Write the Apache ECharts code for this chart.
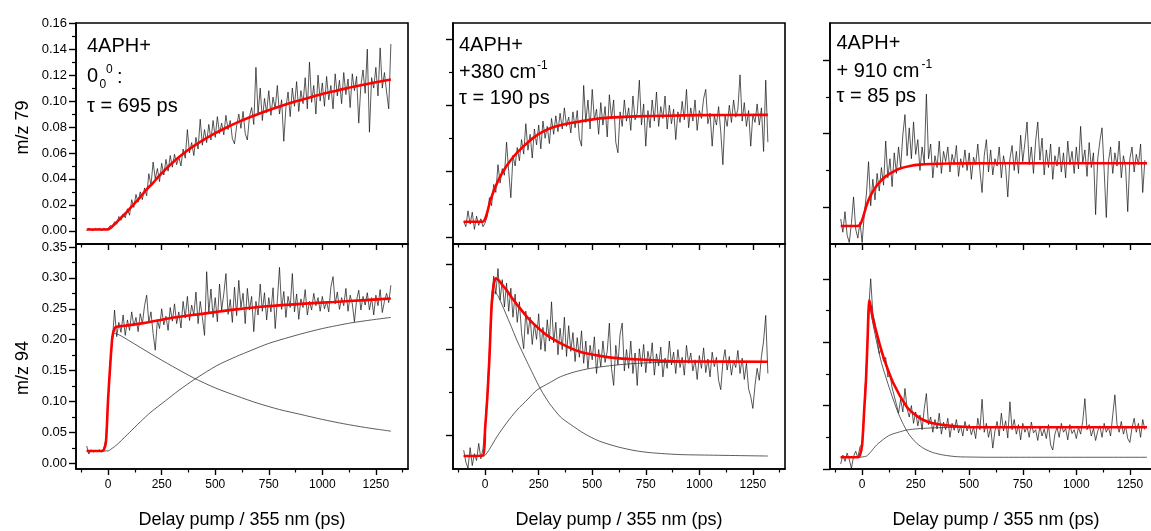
<!DOCTYPE html>
<html>
<head>
<meta charset="utf-8">
<script src="https://cdn.jsdelivr.net/npm/echarts@6/dist/echarts.min.js"></script>
<style>
html,body{margin:0;padding:0;background:#fff;}
#chart{width:1151px;height:531px;}
</style>
</head>
<body>
<div id="chart"></div>
<script>
// ---------------- data ----------------
const delays = [
-100,-90,-80,-70,-60,-50,-40,-30,-20,-10,
0,10,20,30,40,50,60,70,80,90,
100,110,120,130,140,150,160,170,180,190,
200,210,220,230,240,250,260,270,280,290,
300,310,320,330,340,350,360,370,380,390,
400,410,420,430,440,450,460,470,480,490,
500,510,520,530,540,550,560,570,580,590,
600,610,620,630,640,650,660,670,680,690,
700,710,720,730,740,750,760,770,780,790,
800,810,820,830,840,850,860,870,880,890,
900,910,920,930,940,950,960,970,980,990,
1000,1010,1020,1030,1040,1050,1060,1070,1080,1090,
1100,1110,1120,1130,1140,1150,1160,1170,1180,1190,
1200,1210,1220,1230,1240,1250,1260,1270,1280,1290,
1300,1310,1320];

// m/z 79, 0_0^0 (tau = 695 ps)
const m79_00_signal = [
0.000,0.002,0.001,0.000,0.002,0.001,0.002,0.000,0.002,0.001,
0.002,0.004,0.003,0.007,0.005,0.011,0.008,0.013,0.010,0.017,
0.012,0.024,0.018,0.028,0.022,0.030,0.024,0.033,0.027,0.044,
0.035,0.053,0.040,0.048,0.038,0.052,0.043,0.055,0.046,0.058,
0.049,0.059,0.051,0.057,0.050,0.063,0.056,0.078,0.060,0.068,
0.058,0.072,0.063,0.086,0.066,0.078,0.068,0.082,0.070,0.085,
0.072,0.088,0.075,0.083,0.074,0.089,0.078,0.085,0.071,0.067,
0.081,0.090,0.079,0.092,0.075,0.070,0.088,0.095,0.082,0.126,
0.090,0.110,0.085,0.102,0.091,0.108,0.089,0.103,0.094,0.112,
0.090,0.101,0.069,0.095,0.107,0.088,0.110,0.096,0.115,0.092,
0.108,0.098,0.118,0.094,0.130,0.099,0.112,0.090,0.120,0.100,
0.114,0.096,0.119,0.101,0.112,0.094,0.121,0.104,0.116,0.098,
0.122,0.105,0.117,0.095,0.121,0.108,0.119,0.083,0.112,0.124,
0.106,0.140,0.076,0.118,0.110,0.126,0.104,0.141,0.110,0.122,
0.107,0.094,0.144];
const m79_00_fitX = [-100,0,10,30,60,90,117,150,180,210,242,300,367,430,492,555,617,680,742,804,866,930,991,1055,1116,1180,1250,1320];
const m79_00_fit  = [0.001,0.001,0.002,0.005,0.010,0.015,0.020,0.026,0.032,0.037,0.043,0.0525,0.0615,0.0685,0.0745,0.0798,0.0845,0.0887,0.0925,0.096,0.0992,0.1022,0.105,0.1076,0.110,0.1122,0.1145,0.1167];

// m/z 94, 0_0^0
const m94_00_signal = [
0.028,0.015,0.022,0.018,0.021,0.019,0.022,0.018,0.024,0.040,
0.105,0.165,0.200,0.248,0.205,0.228,0.212,0.240,0.207,0.232,
0.215,0.245,0.222,0.236,0.213,0.242,0.226,0.255,0.272,0.228,
0.245,0.210,0.183,0.232,0.218,0.250,0.224,0.238,0.215,0.252,
0.230,0.258,0.226,0.245,0.219,0.262,0.235,0.270,0.231,0.256,
0.240,0.277,0.226,0.262,0.236,0.207,0.310,0.244,0.282,0.236,
0.268,0.229,0.290,0.248,0.274,0.307,0.241,0.265,0.228,0.285,
0.239,0.296,0.252,0.275,0.226,0.283,0.248,0.270,0.213,0.262,
0.240,0.290,0.246,0.276,0.232,0.268,0.245,0.284,0.218,0.263,
0.317,0.249,0.278,0.236,0.270,0.252,0.307,0.245,0.274,0.233,
0.266,0.252,0.281,0.240,0.262,0.248,0.275,0.255,0.268,0.246,
0.270,0.250,0.262,0.245,0.285,0.302,0.258,0.277,0.249,0.268,
0.255,0.283,0.246,0.272,0.258,0.229,0.264,0.280,0.248,0.270,
0.256,0.276,0.248,0.268,0.240,0.272,0.255,0.281,0.244,0.262,
0.275,0.260,0.288];
const m94_00_fitX = [-100,-30,-20,-10,0,10,20,30,40,60,100,150,200,273,350,420,507,600,741,900,1053,1200,1320];
const m94_00_fit  = [0.020,0.020,0.022,0.035,0.105,0.160,0.205,0.218,0.221,0.222,0.2235,0.226,0.229,0.234,0.238,0.241,0.245,0.249,0.254,0.258,0.261,0.264,0.2666];
const m94_00_decayX = [-100,-30,-20,-10,0,10,20,30,50,100,200,300,400,500,600,700,800,900,1000,1100,1200,1320];
const m94_00_decay  = [0.020,0.020,0.022,0.035,0.105,0.158,0.200,0.210,0.208,0.198,0.177,0.157,0.138,0.122,0.109,0.097,0.087,0.079,0.071,0.064,0.058,0.052];
const m94_00_riseX = [-100,0,10,30,50,100,150,200,267,330,400,507,600,663,750,897,1000,1131,1230,1320];
const m94_00_rise  = [0.020,0.020,0.022,0.027,0.033,0.050,0.067,0.083,0.101,0.118,0.135,0.158,0.173,0.182,0.194,0.209,0.218,0.227,0.232,0.236];

// m/z 79, +380 cm-1 (tau = 190 ps)
const m79_380_signal = [
0.012,0.008,0.020,0.010,0.019,0.006,0.016,0.009,0.014,0.008,
0.011,0.016,0.030,0.024,0.040,0.034,0.055,0.041,0.052,0.047,
0.072,0.050,0.030,0.062,0.054,0.068,0.058,0.074,0.063,0.086,
0.066,0.078,0.060,0.082,0.070,0.085,0.067,0.088,0.075,0.084,
0.071,0.090,0.078,0.092,0.080,0.094,0.082,0.098,0.084,0.091,
0.079,0.095,0.083,0.096,0.075,0.069,0.115,0.087,0.104,0.082,
0.112,0.089,0.097,0.078,0.102,0.085,0.099,0.076,0.108,0.090,
0.104,0.072,0.064,0.095,0.084,0.104,0.088,0.098,0.081,0.107,
0.089,0.094,0.119,0.085,0.101,0.069,0.096,0.083,0.104,0.088,
0.110,0.084,0.099,0.090,0.107,0.082,0.100,0.086,0.097,0.074,
0.095,0.087,0.103,0.089,0.112,0.083,0.098,0.088,0.104,0.081,
0.096,0.090,0.105,0.112,0.086,0.094,0.069,0.092,0.085,0.099,
0.080,0.055,0.092,0.084,0.100,0.087,0.104,0.091,0.097,0.123,
0.088,0.102,0.084,0.096,0.069,0.093,0.087,0.101,0.085,0.098,
0.065,0.119,0.072];
const m79_380_fitX = [-100,-10,0,10,23,40,50,70,100,132,180,226,270,320,380,445,520,601,700,852,1000,1320];
const m79_380_fit  = [0.0118,0.0118,0.014,0.019,0.027,0.035,0.039,0.046,0.054,0.061,0.069,0.0755,0.080,0.0835,0.086,0.0878,0.0897,0.0908,0.0916,0.0921,0.0925,0.0927];

// m/z 94, +380 cm-1
const m94_380_signal = [
0.022,0.008,0.001,0.025,0.004,0.018,0.010,0.030,0.012,0.024,
0.050,0.090,0.140,0.200,0.226,0.205,0.235,0.198,0.222,0.190,
0.218,0.185,0.212,0.178,0.205,0.172,0.196,0.160,0.141,0.185,
0.158,0.178,0.146,0.170,0.152,0.182,0.140,0.166,0.138,0.175,
0.150,0.196,0.148,0.172,0.134,0.165,0.140,0.178,0.132,0.168,
0.138,0.160,0.126,0.154,0.131,0.162,0.124,0.150,0.118,0.145,
0.128,0.155,0.112,0.140,0.120,0.150,0.125,0.138,0.171,0.118,
0.098,0.145,0.122,0.158,0.171,0.115,0.140,0.118,0.150,0.112,
0.136,0.098,0.141,0.120,0.146,0.113,0.138,0.124,0.148,0.110,
0.135,0.121,0.143,0.108,0.130,0.118,0.150,0.122,0.137,0.112,
0.140,0.119,0.131,0.110,0.145,0.124,0.136,0.115,0.128,0.105,
0.133,0.118,0.142,0.113,0.129,0.108,0.137,0.120,0.131,0.104,
0.093,0.125,0.140,0.116,0.132,0.110,0.127,0.119,0.139,0.112,
0.130,0.105,0.124,0.094,0.085,0.071,0.098,0.118,0.104,0.132,
0.150,0.180,0.112];
const m94_380_fitX = [-100,-10,0,10,20,30,40,50,60,80,102,130,164,200,258,300,383,450,539,600,696,852,1000,1320];
const m94_380_fit  = [0.0152,0.016,0.048,0.083,0.130,0.190,0.216,0.2236,0.222,0.216,0.209,0.199,0.188,0.177,0.163,0.155,0.1434,0.137,0.1325,0.1303,0.1286,0.1266,0.126,0.1258];
const m94_380_decayX = [-100,-10,0,10,20,30,45,60,80,117,150,195,258,300,352,400,461,530,617,700,773,900,1008,1320];
const m94_380_decay  = [0.0152,0.0155,0.047,0.082,0.128,0.185,0.208,0.203,0.192,0.170,0.150,0.126,0.094,0.077,0.061,0.052,0.0418,0.033,0.0261,0.0215,0.0191,0.017,0.0164,0.0152];
const m94_380_riseX = [-100,-8,0,20,55,100,149,200,242,300,352,420,492,580,664,760,852,1000,1320];
const m94_380_rise  = [0.0152,0.0152,0.016,0.023,0.0379,0.054,0.0692,0.082,0.0926,0.101,0.1082,0.114,0.118,0.121,0.1231,0.1245,0.125,0.1255,0.1258];

// m/z 79, +910 cm-1 (tau = 85 ps)
const m79_910_signal = [
0.017,0.008,0.022,0.006,0.001,0.014,0.032,0.010,0.004,0.015,
0.001,0.020,0.034,0.056,0.026,0.044,0.030,0.048,0.036,0.052,
0.040,0.070,0.045,0.058,0.039,0.062,0.048,0.066,0.052,0.074,
0.088,0.060,0.079,0.058,0.083,0.061,0.071,0.050,0.066,0.055,
0.102,0.058,0.068,0.045,0.060,0.052,0.070,0.048,0.063,0.056,
0.066,0.049,0.061,0.054,0.067,0.046,0.058,0.052,0.064,0.050,
0.062,0.044,0.059,0.054,0.068,0.050,0.035,0.060,0.071,0.049,
0.064,0.047,0.058,0.053,0.066,0.045,0.060,0.052,0.032,0.058,
0.067,0.050,0.063,0.048,0.074,0.056,0.069,0.083,0.054,0.066,
0.048,0.070,0.083,0.057,0.072,0.047,0.064,0.052,0.068,0.044,
0.060,0.053,0.066,0.049,0.062,0.045,0.070,0.054,0.063,0.048,
0.066,0.051,0.080,0.055,0.064,0.046,0.069,0.052,0.062,0.020,
0.058,0.070,0.079,0.050,0.018,0.056,0.066,0.048,0.062,0.053,
0.070,0.045,0.060,0.052,0.022,0.058,0.066,0.049,0.061,0.054,
0.068,0.035,0.057];
const m79_910_fitX = [-100,-25,-10,0,10,20,37,60,84,110,146,180,224,270,317,400,600,1330];
const m79_910_fit  = [0.0122,0.0122,0.013,0.0163,0.021,0.026,0.0322,0.038,0.0424,0.046,0.0492,0.0515,0.0531,0.054,0.0544,0.0547,0.0549,0.0549];

// m/z 94, +910 cm-1
const m94_910_signal = [
0.008,0.022,0.012,0.025,0.015,0.001,0.020,0.028,0.018,0.035,
0.040,0.100,0.165,0.250,0.300,0.245,0.230,0.205,0.182,0.190,
0.170,0.176,0.145,0.150,0.128,0.115,0.102,0.088,0.110,0.090,
0.127,0.095,0.082,0.100,0.072,0.090,0.068,0.085,0.062,0.095,
0.119,0.070,0.082,0.058,0.078,0.063,0.088,0.055,0.074,0.062,
0.080,0.050,0.072,0.061,0.078,0.057,0.068,0.052,0.075,0.060,
0.070,0.054,0.066,0.048,0.080,0.062,0.110,0.058,0.072,0.050,
0.066,0.033,0.060,0.075,0.052,0.088,0.060,0.076,0.049,0.106,
0.062,0.078,0.055,0.070,0.046,0.072,0.058,0.067,0.050,0.074,
0.057,0.062,0.045,0.068,0.052,0.063,0.048,0.070,0.038,0.030,
0.055,0.066,0.050,0.072,0.058,0.064,0.046,0.070,0.056,0.062,
0.048,0.066,0.055,0.075,0.111,0.062,0.070,0.052,0.064,0.045,
0.060,0.068,0.050,0.072,0.058,0.066,0.052,0.085,0.117,0.070,
0.058,0.075,0.055,0.068,0.048,0.042,0.065,0.080,0.058,0.072,
0.050,0.078,0.062];
const m94_910_fitX = [-100,-20,-10,0,10,18,25,34,50,68,99,146,208,250,286,330,379,450,519,1330];
const m94_910_fit  = [0.0185,0.0185,0.022,0.038,0.095,0.140,0.200,0.2666,0.238,0.214,0.1771,0.1352,0.0983,0.085,0.0773,0.072,0.0694,0.067,0.0658,0.0658];
const m94_910_decayX = [-100,-20,-10,0,10,20,30,36,50,70,91,120,146,170,193,220,255,290,333,380,442,520,600,1330];
const m94_910_decay  = [0.0185,0.0185,0.022,0.036,0.093,0.160,0.235,0.255,0.230,0.197,0.1667,0.135,0.1088,0.087,0.070,0.054,0.0405,0.032,0.0257,0.022,0.0194,0.0188,0.0185,0.0185];
const m94_910_riseX = [-100,-20,0,21,40,68,100,130,170,208,260,317,400,500,1330];
const m94_910_rise  = [0.0185,0.0185,0.019,0.0205,0.027,0.0379,0.047,0.0536,0.058,0.0615,0.0635,0.0647,0.0655,0.0658,0.0658];

// ticks and labels
const xMajorTicks = [0,250,500,750,1000,1250];
const xMinorTicks = [-125,125,375,625,875,1125,1375];
const yMajor_79_00 = [0,0.02,0.04,0.06,0.08,0.10,0.12,0.14,0.16];
const yMinor_79_00 = [0.01,0.03,0.05,0.07,0.09,0.11,0.13,0.15];
const yMajor_94_00 = [0,0.05,0.10,0.15,0.20,0.25,0.30,0.35];
const yMinor_94_00 = [0.025,0.075,0.125,0.175,0.225,0.275,0.325];
const yMajor_79_380 = [0,0.05,0.10,0.15];
const yMinor_79_380 = [0.025,0.075,0.125];
const yMajor_94_380 = [0.04,0.14,0.24];
const yMinor_94_380 = [0.09,0.19];
const yMajor_79_910 = [0.025,0.075,0.125];
const yMinor_79_910 = [0.05,0.10];
const yMajor_94_910 = [0,0.1,0.2,0.3];
const yMinor_94_910 = [0.05,0.15,0.25];
const xAxisTitle = 'Delay pump / 355 nm (ps)';
const yAxisTitles = ['m/z 79','m/z 94'];

// ---------------- layout / build ----------------
const FONT = '"Liberation Sans", Arial, Helvetica, sans-serif';
const X_MIN = -150, X_MAX = 1400;
const TOP = {top:23, height:221}, BOT = {top:244, height:225};
const COLS = [76, 453, 830], W = 332;

function pairs(xs, ys){ return xs.map((x,i)=>[x, ys[i]]); }

const panels = [
 {col:0, row:TOP, bottom:false, labels:true,  yMin:-0.0102, yMax:0.1602, major:yMajor_79_00, minor:yMinor_79_00,
  sig:m79_00_signal, fit:[m79_00_fitX,m79_00_fit], comps:[]},
 {col:0, row:BOT, bottom:true,  labels:true,  yMin:-0.0092, yMax:0.3548, major:yMajor_94_00, minor:yMinor_94_00,
  sig:m94_00_signal, fit:[m94_00_fitX,m94_00_fit], comps:[[m94_00_decayX,m94_00_decay],[m94_00_riseX,m94_00_rise]]},
 {col:1, row:TOP, bottom:false, labels:false, yMin:-0.0051, yMax:0.1623, major:yMajor_79_380, minor:yMinor_79_380,
  sig:m79_380_signal, fit:[m79_380_fitX,m79_380_fit], comps:[]},
 {col:1, row:BOT, bottom:true,  labels:false, yMin:0, yMax:0.2638, major:yMajor_94_380, minor:yMinor_94_380,
  sig:m94_380_signal, fit:[m94_380_fitX,m94_380_fit], comps:[[m94_380_decayX,m94_380_decay],[m94_380_riseX,m94_380_rise]]},
 {col:2, row:TOP, bottom:false, labels:false, yMin:0, yMax:0.1503, major:yMajor_79_910, minor:yMinor_79_910,
  sig:m79_910_signal, fit:[m79_910_fitX,m79_910_fit], comps:[]},
 {col:2, row:BOT, bottom:true,  labels:false, yMin:0, yMax:0.3549, major:yMajor_94_910, minor:yMinor_94_910,
  sig:m94_910_signal, fit:[m94_910_fitX,m94_910_fit], comps:[[m94_910_decayX,m94_910_decay],[m94_910_riseX,m94_910_rise]]}
];

const grids = [], xAxes = [], yAxes = [], series = [];
panels.forEach((p, k) => {
  grids.push({left:COLS[p.col], width:W, top:p.row.top, height:p.row.height,
    show:true, borderColor:'#000', borderWidth:1.6, backgroundColor:'transparent',
    containLabel:false, outerBoundsMode:'none'});
  const xi = xAxes.length, yi = yAxes.length;
  xAxes.push({gridIndex:k, type:'value', min:X_MIN, max:X_MAX, position:'bottom',
    axisLine:{show:true, onZero:false, lineStyle:{color:'#000', width:1.6}},
    axisTick:{show:true, inside:false, length:6, customValues:xMajorTicks, lineStyle:{color:'#000', width:1.4}},
    axisLabel:{show:p.bottom, customValues:xMajorTicks, formatter:(v)=>String(v), fontSize:12, color:'#000', margin:10, fontFamily:FONT},
    splitLine:{show:false},
    name:p.bottom ? xAxisTitle : '', nameLocation:'middle', nameGap:42,
    nameTextStyle:{fontSize:18, color:'#000', fontFamily:FONT}});
  xAxes.push({gridIndex:k, type:'value', min:X_MIN, max:X_MAX, position:'bottom',
    axisLine:{show:false, onZero:false},
    axisTick:{show:true, inside:false, length:3.5, customValues:xMinorTicks, lineStyle:{color:'#000', width:1.2}},
    axisLabel:{show:false}, splitLine:{show:false}});
  yAxes.push({gridIndex:k, type:'value', min:p.yMin, max:p.yMax, position:'left',
    axisLine:{show:true, onZero:false, lineStyle:{color:'#000', width:1.6}},
    axisTick:{show:true, inside:false, length:7, customValues:p.major, lineStyle:{color:'#000', width:1.4}},
    axisLabel:{show:p.labels, customValues:p.major, formatter:(v)=>v.toFixed(2), fontSize:13, color:'#000', margin:9, fontFamily:FONT},
    splitLine:{show:false}});
  yAxes.push({gridIndex:k, type:'value', min:p.yMin, max:p.yMax, position:'left',
    axisLine:{show:false, onZero:false},
    axisTick:{show:true, inside:false, length:4, customValues:p.minor, lineStyle:{color:'#000', width:1.2}},
    axisLabel:{show:false}, splitLine:{show:false}});

  series.push({type:'line', xAxisIndex:xi, yAxisIndex:yi, data:pairs(delays, p.sig),
    symbol:'none', showSymbol:false, silent:true, z:2,
    lineStyle:{color:'#111', width:0.7}});
  p.comps.forEach(c => series.push({type:'line', xAxisIndex:xi, yAxisIndex:yi, data:pairs(c[0], c[1]),
    symbol:'none', showSymbol:false, silent:true, z:3, smooth:0.25,
    lineStyle:{color:'#333', width:0.8}}));
  series.push({type:'line', xAxisIndex:xi, yAxisIndex:yi, data:pairs(p.fit[0], p.fit[1]),
    symbol:'none', showSymbol:false, silent:true, z:4, smooth:0.25,
    lineStyle:{color:'#ff0000', width:2.6}});
});

function txt(x, y, s, size, extra){
  return Object.assign({type:'text', x:x, y:y, silent:true, z:10,
    style:{text:s, fill:'#000', font:size + 'px ' + FONT, fontSize:size, fontFamily:FONT,
      textAlign:'left', align:'left', textVerticalAlign:'middle', verticalAlign:'middle'}}, extra || {});
}
function rtxt(x, y, s, size){
  return {type:'text', x:x, y:y, rotation:Math.PI/2, silent:true, z:10,
    style:{text:s, fill:'#000', font:size + 'px ' + FONT, fontSize:size, fontFamily:FONT,
      textAlign:'center', align:'center', textVerticalAlign:'middle', verticalAlign:'middle'}};
}

const graphics = [
  // panel 1 annotation
  txt(87, 46.5, '4APH+', 20),
  txt(87, 76.5, '0', 20),
  txt(99.5, 85, '0', 12),
  txt(106, 69.5, '0', 12),
  txt(117, 77, ':', 20),
  txt(87, 106.5, 'τ = 695 ps', 20),
  // panel 2 annotation
  txt(459, 45, '4APH+', 20),
  txt(459, 72, '+380 cm', 20),
  txt(537, 66, '-1', 12),
  txt(459, 98.5, 'τ = 190 ps', 20),
  // panel 3 annotation
  txt(836.5, 43.7, '4APH+', 20),
  txt(836.5, 71, '+ 910 cm', 20),
  txt(921.5, 65, '-1', 12),
  txt(836.5, 96.7, 'τ = 85 ps', 20),
  // y-axis titles
  rtxt(23, 127.5, yAxisTitles[0], 18),
  rtxt(23, 368, yAxisTitles[1], 18)
];

const chart = echarts.init(document.getElementById('chart'), null, {renderer:'canvas'});
chart.setOption({
  animation:false,
  backgroundColor:'#fff',
  textStyle:{fontFamily:FONT},
  grid:grids, xAxis:xAxes, yAxis:yAxes, series:series,
  graphic:{elements:graphics}
});
</script>
</body>
</html>
